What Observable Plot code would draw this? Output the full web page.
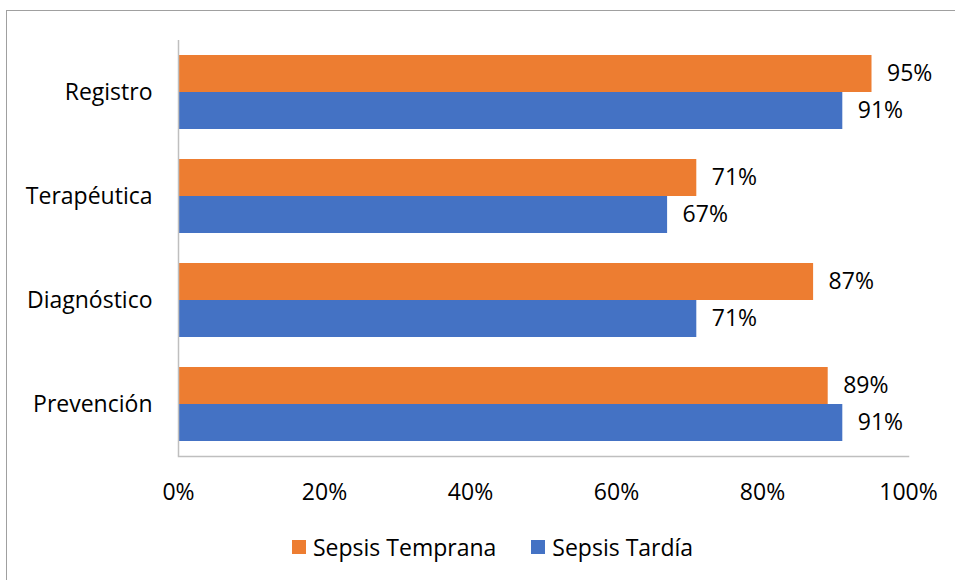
<!DOCTYPE html>
<html><head><meta charset="utf-8">
<script src="https://cdn.jsdelivr.net/npm/d3@7"></script>
<script src="https://cdn.jsdelivr.net/npm/@observablehq/plot@0.6"></script>
<style>
body{margin:0;background:#fff;font-family:"Open Sans",sans-serif;overflow:hidden;}
#frame{position:absolute;left:6px;top:10px;width:949px;height:570px;border-top:1.5px solid #a0a0a0;border-left:1.5px solid #a0a0a0;box-sizing:border-box;}
#chart{position:absolute;left:0;top:0;}
#legend{position:absolute;top:531px;left:292px;display:flex;align-items:center;font-size:23px;color:#000;white-space:nowrap;}
.sw{display:inline-block;width:14px;height:14px;margin-right:7px;}
.item{display:flex;align-items:center;margin-right:35px;}
</style></head>
<body>
<div id="frame"></div>
<div id="chart"></div>
<div id="legend"></div>
<script>
const categories = ["Registro","Terapéutica","Diagnóstico","Prevención"];
const temprana = [0.95,0.71,0.87,0.89];
const tardia = [0.91,0.67,0.71,0.91];
const xTicks = [0,0.2,0.4,0.6,0.8,1];
const seriesNames = ["Sepsis Temprana","Sepsis Tardía"];
const seriesColors = ["#ED7D31","#4472C4"];

const dT = categories.map((c,i)=>({cat:c, v:temprana[i]}));
const dD = categories.map((c,i)=>({cat:c, v:tardia[i]}));
const pct = d => Math.round(d*100) + "%";

const chart = Plot.plot({
  width:955, height:510,
  marginLeft:178, marginRight:47, marginTop:40, marginBottom:54,
  style:{fontFamily:"'Open Sans', sans-serif", fontSize:"23px", color:"#000", background:"transparent", overflow:"visible"},
  x:{domain:[0,1]},
  y:{domain:categories, paddingInner:0.288, paddingOuter:0.144},
  marks:[
    Plot.barX(dT,{x:"v", y:"cat", fill:seriesColors[0], insetBottom:37}),
    Plot.barX(dD,{x:"v", y:"cat", fill:seriesColors[1], insetTop:37}),
    Plot.text(dT,{x:"v", y:"cat", text:d=>pct(d.v), dx:15, dy:-18.5, textAnchor:"start", fontSize:23, fill:"#000"}),
    Plot.text(dD,{x:"v", y:"cat", text:d=>pct(d.v), dx:15, dy:18.5, textAnchor:"start", fontSize:23, fill:"#000"}),
    Plot.axisX({ticks:xTicks, tickFormat:pct, tickSize:0, tickPadding:27, label:null, fontSize:23}),
    Plot.axisY({tickSize:0, tickPadding:26, label:null, fontSize:23}),
    Plot.ruleX([0],{stroke:"#bfbfbf", strokeWidth:1.5}),
    Plot.frame({anchor:"bottom", stroke:"#bfbfbf", strokeWidth:1.5})
  ]
});
document.getElementById("chart").appendChild(chart);

const legend = document.getElementById("legend");
seriesNames.forEach((n,i)=>{
  const item = document.createElement("div");
  item.className = "item";
  const sw = document.createElement("span");
  sw.className = "sw"; sw.style.background = seriesColors[i];
  const t = document.createElement("span");
  t.textContent = n;
  item.appendChild(sw); item.appendChild(t);
  legend.appendChild(item);
});
</script>
</body></html>
